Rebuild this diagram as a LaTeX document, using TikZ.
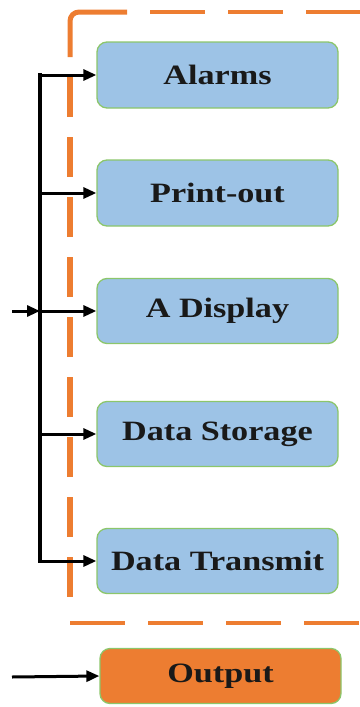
\documentclass[tikz,border=0pt]{standalone}
\usepackage{fontspec}
\setmainfont{Liberation Serif}[FakeStretch=1.22]
\usetikzlibrary{arrows.meta}
\definecolor{boxblue}{HTML}{9DC3E6}
\definecolor{boxgreen}{HTML}{8CC66B}
\definecolor{orng}{HTML}{ED7D31}
\begin{document}
\begin{tikzpicture}[x=1pt,y=-1pt,
  blk/.style={draw=boxgreen, line width=1.3pt, fill=boxblue, rounded corners=10pt,
    minimum width=241pt, inner sep=0pt, font=\fontsize{28}{30}\selectfont\bfseries, text=black!90},
  outblk/.style={blk, fill=orng},
  vframe/.style={draw=orng, line width=5.5pt, dash pattern=on 40pt off 20pt},
  hframe/.style={draw=orng, line width=4.5pt, dash pattern=on 55pt off 23pt},
  arr/.style={line width=3pt, -{Triangle[length=13pt,width=11pt]}},
  busline/.style={line width=3.5pt, line cap=rect}]
\useasboundingbox (0,0) rectangle (359,707);
% dashed frame
\draw[draw=orng, line width=5pt, rounded corners=9pt] (70,57) -- (70,12) -- (127,12);
\draw[hframe] (150,12) -- (400,12);
\draw[vframe] (70,77) -- (70,604);
\draw[hframe] (70,623) -- (400,623);
% boxes
\node[blk, minimum height=66pt] (a) at (217.5,75) {Alarms};
\node[blk, minimum height=66pt] (p) at (217.5,193) {Print-out};
\node[blk, minimum height=65pt] (d) at (217.5,311) {A Display};
\node[blk, minimum height=65pt] (s) at (217.5,434) {Data Storage};
\node[blk, minimum height=65pt] (t) at (217.5,561) {Data Transmit};
\node[outblk, minimum height=55pt] (o) at (220.5,676) {Output};
% bus
\coordinate (bus) at (40,0);
\coordinate (in) at (12,311);
\coordinate (oin) at (12,677);
\draw[busline] (bus |- a.west) -- (bus |- t.west);
\foreach \n in {a,p,d,s,t}{
  \draw[arr] (bus |- \n.west) -- (\n.west);
}
\draw[arr] (in) -- (bus |- d.west);
\draw[arr] (oin) -- (o.west);
\end{tikzpicture}
\end{document}
